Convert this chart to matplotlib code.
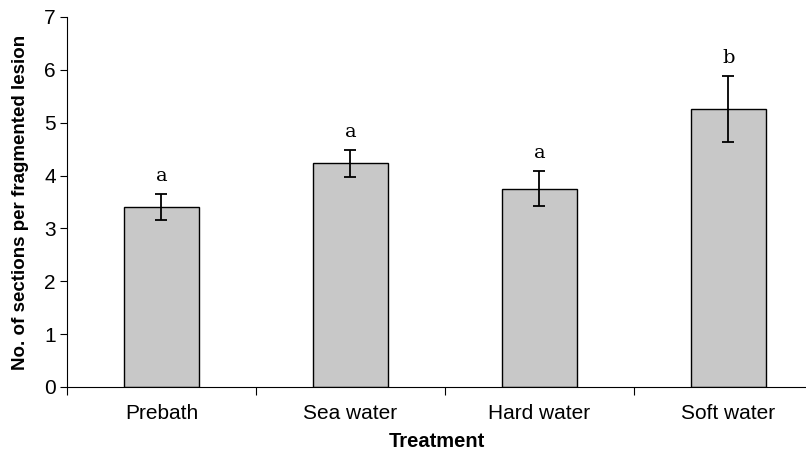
import numpy as np
import matplotlib.pyplot as plt

plt.rcParams['font.family'] = ['Liberation Sans', 'DejaVu Sans']

# Data
treatments = ['Prebath', 'Sea water', 'Hard water', 'Soft water']
means = [3.41, 4.23, 3.75, 5.26]
errors = [0.25, 0.26, 0.33, 0.62]
letters = ['a', 'a', 'a', 'b']

fig = plt.figure(figsize=(8.06, 4.54), dpi=100)
ax = fig.add_axes([0.083, 0.1476, 0.917, 0.815])

x = np.arange(len(treatments))
ax.bar(x, means, width=0.4, color='#c8c8c8', edgecolor='black', linewidth=1.0)
ax.errorbar(x, means, yerr=errors, fmt='none', ecolor='black',
            elinewidth=1.3, capsize=4, capthick=1.3)

# Significance letters above the error bars
for xi, m, e, lab in zip(x, means, errors, letters):
    ax.text(xi, m + e + 0.17, lab, ha='center', va='bottom',
            fontsize=14, family=['DejaVu Serif'])

ax.set_xlim(-0.5, 3.41)
ax.set_ylim(0, 7)
ax.set_yticks(range(0, 8))

# Category boundaries as ticks, labels centred between them
ax.set_xticks([-0.5, 0.5, 1.5, 2.5])
ax.set_xticklabels([])
ax.set_xticks(x, minor=True)
ax.set_xticklabels(treatments, minor=True, fontsize=15)
ax.tick_params(axis='x', which='minor', length=0, pad=12)
ax.tick_params(axis='x', which='major', length=6, direction='out')
ax.tick_params(axis='y', length=5, direction='out', labelsize=15, pad=3)

ax.spines['top'].set_visible(False)
ax.spines['right'].set_visible(False)

ax.set_xlabel('Treatment', fontsize=14.5, fontweight='bold', labelpad=7)
ax.set_ylabel('No. of sections per fragmented lesion', fontsize=13.5,
              fontweight='bold', labelpad=11)

fig.savefig('out.png', dpi=100)
